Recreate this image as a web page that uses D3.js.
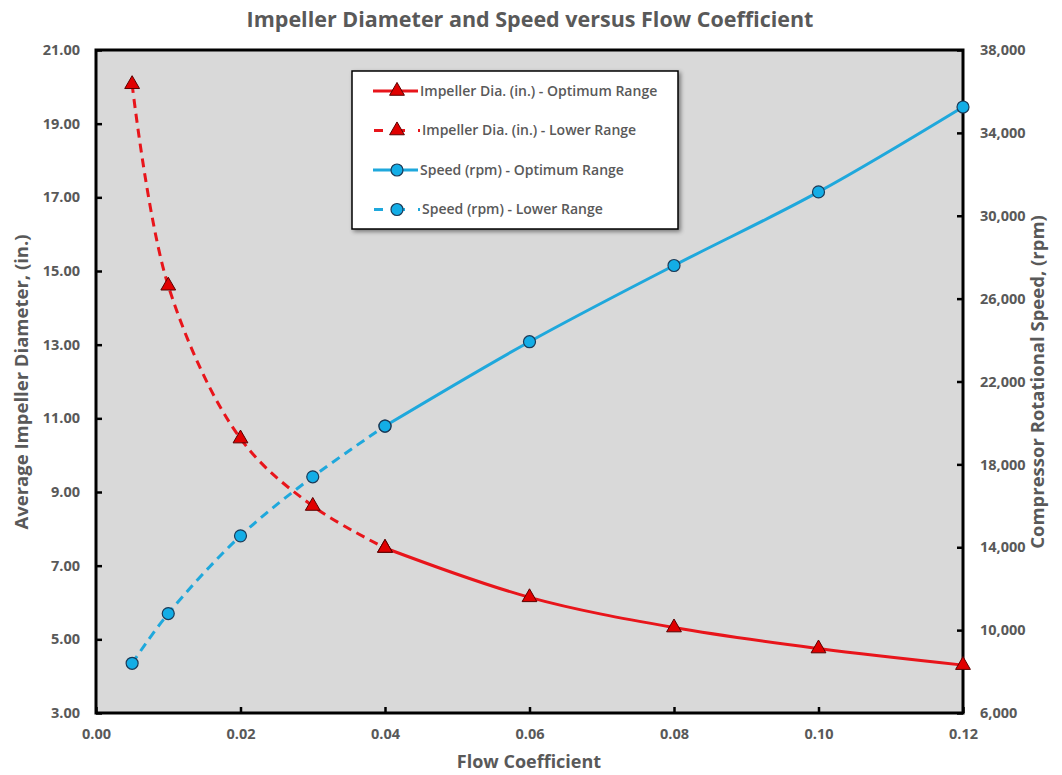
<!DOCTYPE html>
<html>
<head>
<meta charset="utf-8">
<script src="https://cdn.jsdelivr.net/npm/d3@7"></script>
<style>
  body { margin: 0; background: #fff; }
  text { font-family: "Open Sans", "Noto Sans", sans-serif; }
</style>
</head>
<body>
<div id="chart"></div>
<script>
// 数据
const flowLower = [0.005, 0.01, 0.02, 0.03, 0.04];
const flowOptimum = [0.04, 0.06, 0.08, 0.10, 0.12];
const diaLower = [20.07, 14.6, 10.45, 8.62, 7.48];
const diaOptimum = [7.48, 6.14, 5.32, 4.75, 4.30];
const speedLower = [8400, 10800, 14550, 17400, 19850];
const speedOptimum = [19850, 23920, 27600, 31150, 35250];
const xTicks = [0, 0.02, 0.04, 0.06, 0.08, 0.10, 0.12];
const leftTicks = [3, 5, 7, 9, 11, 13, 15, 17, 19, 21];
const rightTicks = [6000, 10000, 14000, 18000, 22000, 26000, 30000, 34000, 38000];
const legendLabels = [
  "Impeller Dia. (in.) - Optimum Range",
  "Impeller Dia. (in.) - Lower Range",
  "Speed (rpm) - Optimum Range",
  "Speed (rpm) - Lower Range"
];

const W = 1062, H = 775;
const margin = {top: 50, right: 99, bottom: 62, left: 96};
const width = W - margin.left - margin.right,
      height = H - margin.top - margin.bottom;

const red = "#E8151B", blue = "#1FA8DC";
const gray = "#595959";

const svg = d3.select("#chart").append("svg")
  .attr("width", W).attr("height", H);

const defs = svg.append("defs");
const f = defs.append("filter").attr("id", "shadow")
  .attr("x", "-10%").attr("y", "-10%").attr("width", "130%").attr("height", "130%");
f.append("feDropShadow").attr("dx", 2).attr("dy", 2).attr("stdDeviation", 2)
  .attr("flood-color", "#000").attr("flood-opacity", 0.45);

const g = svg.append("g").attr("transform", `translate(${margin.left},${margin.top})`);

// 比例尺
const x = d3.scaleLinear().domain([0, 0.12]).range([0, width]);
const yL = d3.scaleLinear().domain([3, 21]).range([height, 0]);
const yR = d3.scaleLinear().domain([6000, 38000]).range([height, 0]);

// 绘图区背景
g.append("rect").attr("width", width).attr("height", height).attr("fill", "#D9D9D9");

// 坐标轴
const axisStyle = sel => {
  sel.select(".domain").remove();
  sel.selectAll(".tick line").attr("stroke", "#000").attr("stroke-width", 2.5);
  sel.selectAll(".tick text").attr("fill", gray).attr("font-size", 14.5).attr("font-weight", "bold");
};

g.append("g").attr("transform", `translate(0,${height})`)
  .call(d3.axisBottom(x).tickValues(xTicks).tickFormat(d3.format(".2f")).tickSizeInner(-6).tickPadding(16))
  .call(axisStyle);

g.append("g")
  .call(d3.axisLeft(yL).tickValues(leftTicks).tickFormat(d3.format(".2f")).tickSizeInner(-6).tickPadding(16))
  .call(axisStyle);

g.append("g").attr("transform", `translate(${width},0)`)
  .call(d3.axisRight(yR).tickValues(rightTicks).tickFormat(d3.format(",")).tickSizeInner(-6).tickPadding(17))
  .call(axisStyle);

// 边框
g.append("rect").attr("width", width).attr("height", height)
  .attr("fill", "none").attr("stroke", "#000").attr("stroke-width", 3);

// 曲线
const curve = d3.curveCatmullRom.alpha(0.5);
const lineL = d3.line().x(d => x(d[0])).y(d => yL(d[1])).curve(curve);
const lineR = d3.line().x(d => x(d[0])).y(d => yR(d[1])).curve(curve);

const series = [
  {xs: flowOptimum, ys: diaOptimum, line: lineL, y: yL, color: red, dash: null, marker: "tri"},
  {xs: flowLower, ys: diaLower, line: lineL, y: yL, color: red, dash: "9,6", marker: "tri"},
  {xs: flowOptimum, ys: speedOptimum, line: lineR, y: yR, color: blue, dash: null, marker: "circ"},
  {xs: flowLower, ys: speedLower, line: lineR, y: yR, color: blue, dash: "9,6", marker: "circ"}
];

const triPath = d3.symbol().type(d3.symbolTriangle).size(95);

function drawMarker(sel, type, cx, cy) {
  if (type === "tri") {
    sel.append("path").attr("d", triPath())
      .attr("transform", `translate(${cx},${cy})`)
      .attr("fill", "#E00000").attr("stroke", "#5A0000").attr("stroke-width", 1);
  } else {
    sel.append("circle").attr("cx", cx).attr("cy", cy).attr("r", 6)
      .attr("fill", "#13ADE6").attr("stroke", "#1B3A57").attr("stroke-width", 1.2);
  }
}

series.forEach(s => {
  const pts = s.xs.map((v, i) => [v, s.ys[i]]);
  g.append("path").datum(pts).attr("d", s.line)
    .attr("fill", "none").attr("stroke", s.color).attr("stroke-width", 3)
    .attr("stroke-dasharray", s.dash);
});
series.forEach(s => {
  s.xs.forEach((v, i) => drawMarker(g, s.marker, x(v), s.y(s.ys[i])));
});

// 图例
const lg = svg.append("g").attr("transform", "translate(352,71)");
lg.append("rect").attr("width", 326).attr("height", 158)
  .attr("fill", "#fff").attr("stroke", "#000").attr("stroke-width", 1.5)
  .attr("filter", "url(#shadow)");
series.forEach((s, i) => {
  const yy = 20 + i * 39.5;
  if (s.dash) {
    lg.append("line").attr("x1", 22).attr("x2", 68).attr("y1", yy).attr("y2", yy)
      .attr("stroke", s.color).attr("stroke-width", 3).attr("stroke-dasharray", "9,13");
  } else {
    lg.append("line").attr("x1", 21).attr("x2", 66).attr("y1", yy).attr("y2", yy)
      .attr("stroke", s.color).attr("stroke-width", 3);
  }
  drawMarker(lg, s.marker, 45, yy);
  lg.append("text").attr("x", s.dash ? 70 : 68).attr("y", yy).attr("dy", "0.35em")
    .attr("fill", gray).attr("font-size", 14).attr("font-weight", 600)
    .text(legendLabels[i]);
});

// 标题
svg.append("text").attr("x", 530).attr("y", 27).attr("text-anchor", "middle")
  .attr("fill", gray).attr("font-size", 21.5).attr("font-weight", "bold")
  .text("Impeller Diameter and Speed versus Flow Coefficient");

svg.append("text").attr("x", 529).attr("y", 768).attr("text-anchor", "middle")
  .attr("fill", gray).attr("font-size", 18).attr("font-weight", "bold")
  .text("Flow Coefficient");

svg.append("text").attr("transform", "translate(28,382) rotate(-90)").attr("text-anchor", "middle")
  .attr("fill", gray).attr("font-size", 18.5).attr("font-weight", "bold")
  .text("Average Impeller Diameter, (in.)");

svg.append("text").attr("transform", "translate(1044,382) rotate(-90)").attr("text-anchor", "middle")
  .attr("fill", gray).attr("font-size", 18.5).attr("font-weight", "bold")
  .text("Compressor Rotational Speed, (rpm)");
</script>
</body>
</html>
